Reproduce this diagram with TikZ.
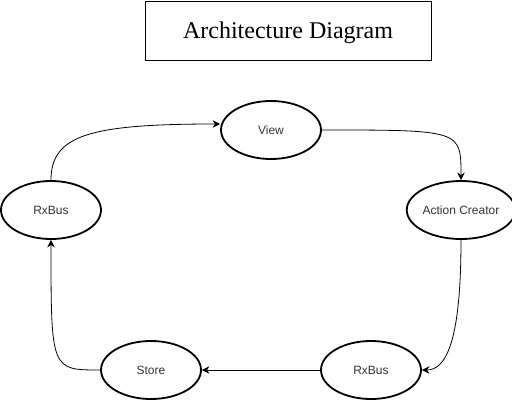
\documentclass[tikz,border=0pt]{standalone}
\usepackage{fontspec}
\setmainfont{Liberation Serif}
\setsansfont{Liberation Sans}
\usetikzlibrary{shapes, arrows.meta}

\tikzset{
  state/.style={draw, ellipse, line width=1.8pt, minimum width=100pt, minimum height=58pt,
    inner sep=0pt, font=\sffamily\fontsize{12}{14}\selectfont, text=black!80},
  link/.style={-{Stealth[length=7.5pt, width=7.5pt]}, line width=0.8pt},
}

\begin{document}
\begin{tikzpicture}[x=1pt, y=-1pt]
            \useasboundingbox (0, 0) rectangle (512, 402);
            \node[draw, line width=1pt, minimum width=286pt, minimum height=59pt, text depth=1pt,
              font=\fontsize{24}{28}\selectfont] (t0) at (288, 30.5) {Architecture Diagram};

            \node[state] (n0) at (271, 130) {View};
            \node[state] (n1) at (461, 210) {Action Creator};
            \node[state] (n2) at (371, 370) {RxBus};
            \node[state] (n3) at (151, 370) {Store};
            \node[state] (n4) at (51, 210) {RxBus};

            \draw[link] (n4.north) .. controls (51, 135) and (90, 124) .. ([yshift=6pt]n0.west);
            \draw[link] (n0.east) .. controls (461, 130) .. (n1.north);
            \draw[link] (n1.south) .. controls (461, 345) and (445, 370) .. (n2.east);
            \draw[link] (n2) -- (n3);
            \draw[link] (n3.west) .. controls (51, 370) .. (n4.south);
    	\end{tikzpicture}
\end{document}
